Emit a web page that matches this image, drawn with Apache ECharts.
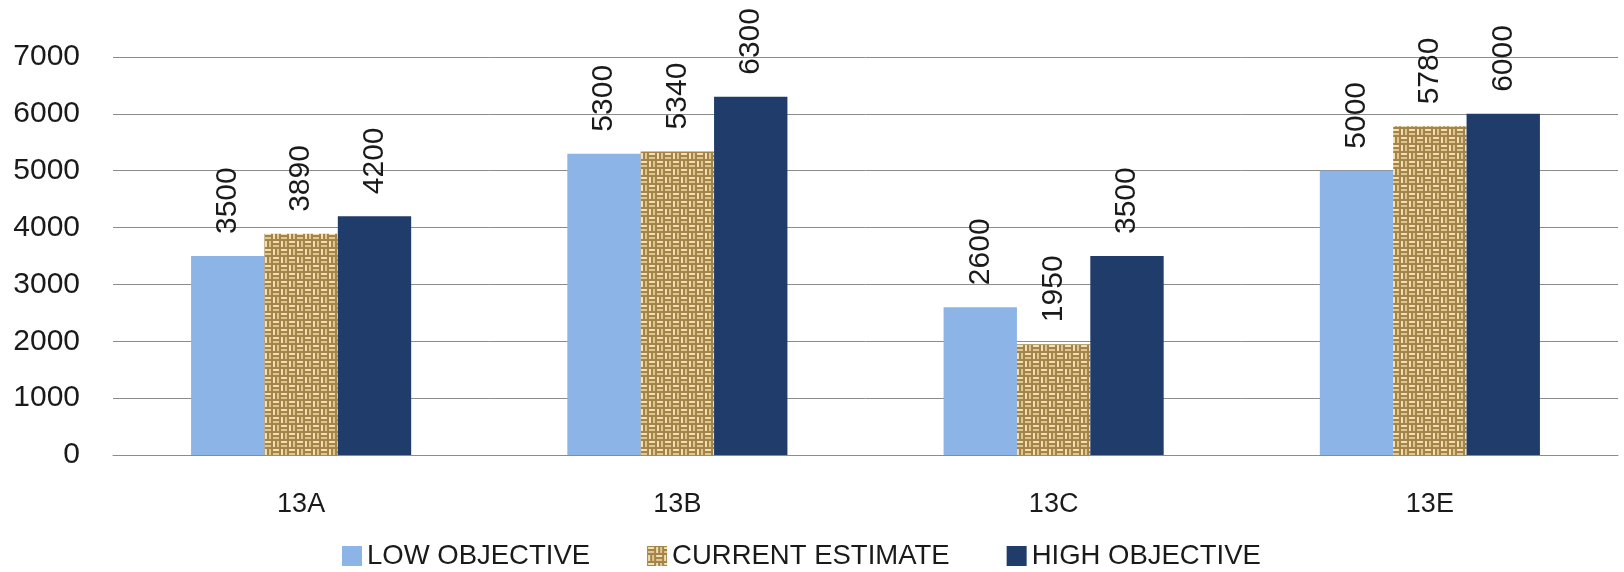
<!DOCTYPE html>
<html>
<head>
<meta charset="utf-8">
<script src="https://cdn.jsdelivr.net/npm/echarts@6/dist/echarts.min.js"></script>
<style>
html,body{margin:0;padding:0;background:#fff;}
#chart{width:1624px;height:572px;}
</style>
</head>
<body>
<div id="chart"></div>
<script>
const categories = ['13A', '13B', '13C', '13E'];
const seriesNames = ['LOW OBJECTIVE', 'CURRENT ESTIMATE', 'HIGH OBJECTIVE'];
const lowObjective = [3500, 5300, 2600, 5000];
const currentEstimate = [3890, 5340, 1950, 5780];
const highObjective = [4200, 6300, 3500, 6000];
const yTicks = [0, 1000, 2000, 3000, 4000, 5000, 6000, 7000];

function weavePattern() {
  const c = document.createElement('canvas');
  c.width = 16; c.height = 16;
  const g = c.getContext('2d');
  g.fillStyle = '#a5844a';
  g.fillRect(0, 0, 16, 16);
  for (let bx = 0; bx < 2; bx++) {
    for (let by = 0; by < 2; by++) {
      const x0 = bx * 8, y0 = by * 8;
      const horiz = (bx + by) % 2 === 0;
      for (let s = 0; s < 2; s++) {
        g.fillStyle = s === 0 ? '#f1e0b2' : '#e0c78f';
        if (horiz) g.fillRect(x0 + 1, y0 + s * 4 + 1, 6, 2);
        else g.fillRect(x0 + s * 4 + 1, y0 + 1, 2, 6);
      }
    }
  }
  return c;
}

const chart = echarts.init(document.getElementById('chart'));
const labelStyle = {
  show: true,
  position: 'top',
  rotate: 90,
  align: 'left',
  verticalAlign: 'middle',
  distance: 22,
  fontFamily: 'Liberation Sans',
  fontSize: 30,
  color: '#1a1a1a'
};
const colors = ['#8db4e6', { image: weavePattern(), repeat: 'repeat' }, '#1f3c6a'];
const dataSets = [lowObjective, currentEstimate, highObjective];

chart.setOption({
  backgroundColor: '#ffffff',
  animation: false,
  grid: { left: 113, right: 6, top: 57, bottom: 117 },
  legend: {
    left: 337,
    top: 537,
    itemWidth: 20,
    itemHeight: 20,
    itemGap: 57,
    icon: 'rect',
    textStyle: { fontFamily: 'Liberation Sans', fontSize: 27.5, color: '#1a1a1a' },
    data: seriesNames
  },
  xAxis: {
    type: 'category',
    data: categories,
    axisLine: { lineStyle: { color: '#8c8c8c', width: 1 } },
    axisTick: { show: false },
    axisLabel: { margin: 36, fontFamily: 'Liberation Sans', fontSize: 27, color: '#1a1a1a' }
  },
  yAxis: {
    type: 'value',
    min: yTicks[0],
    max: yTicks[yTicks.length - 1],
    interval: 1000,
    axisLine: { show: false },
    axisTick: { show: false },
    splitLine: { lineStyle: { color: '#8c8c8c', width: 1 } },
    axisLabel: {
      margin: 33, fontFamily: 'Liberation Sans', fontSize: 30, color: '#1a1a1a',
      formatter: v => String(v)
    }
  },
  series: seriesNames.map((name, i) => ({
    name: name,
    type: 'bar',
    data: dataSets[i],
    barGap: '0%',
    barCategoryGap: '41.5%',
    itemStyle: { color: colors[i] },
    label: labelStyle
  }))
});
</script>
</body>
</html>
